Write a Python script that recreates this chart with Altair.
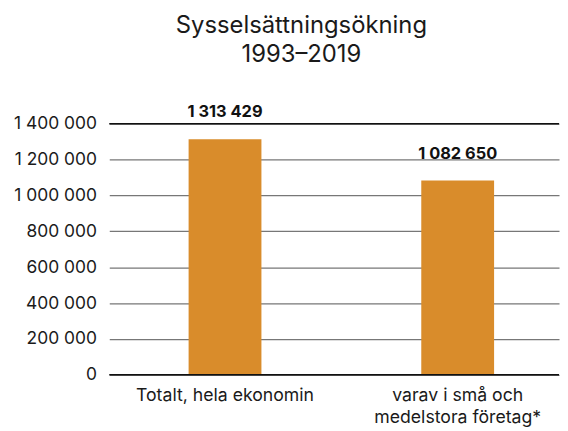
import altair as alt
import pandas as pd

categories = ["Totalt, hela ekonomin", "varav i små och\nmedelstora företag*"]
values = [1313429, 1082650]
labels = ["1\u00a0313\u00a0429", "1\u00a0082\u00a0650"]
y_ticks = [0, 200000, 400000, 600000, 800000, 1000000, 1200000, 1400000]

df = pd.DataFrame({"kategori": categories, "varde": values, "etikett": labels})
FONT = "Inter"

y_scale = alt.Scale(domain=[0, 1400000], nice=False)
y_axis = alt.Axis(values=y_ticks, format=",d", ticks=False, domain=False,
                  labelPadding=13, labelFontSize=17.5, labelColor="#1a1a1a",
                  labelFont=FONT, gridColor="#777777", gridWidth=1.2,
                  labelOverlap=False)

x = alt.X("kategori:N", sort=categories, title=None,
          scale=alt.Scale(paddingInner=0.687, paddingOuter=0.31, align=0.55),
          axis=alt.Axis(labelAngle=0, labelExpr="split(datum.label, '\\n')",
                        ticks=False, domain=False, labelPadding=12,
                        labelFontSize=17.8, labelColor="#1a1a1a", labelFont=FONT,
                        labelLineHeight=22, labelOverlap=False, labelLimit=0))

bars = alt.Chart(df).mark_bar(color="#D98C2B").encode(
    x=x, y=alt.Y("varde:Q", title=None, scale=y_scale, axis=y_axis))
text = alt.Chart(df).mark_text(baseline="bottom", dy=-19, fontSize=16.5,
                               fontWeight="bold", font=FONT, color="#111111").encode(
    x=alt.X("kategori:N", sort=categories),
    y=alt.Y("varde:Q", title=None, scale=y_scale, axis=y_axis),
    text="etikett:N")
edges = alt.Chart(pd.DataFrame({"v": [0, 1400000]})).mark_rule(
    color="#111111", strokeWidth=1.5).encode(
    y=alt.Y("v:Q", title=None, scale=y_scale, axis=y_axis))

chart = alt.layer(bars, edges, text).properties(
    width=453, height=253,
    padding={"left": 5, "top": 4, "right": 0, "bottom": 0},
    title=alt.TitleParams(["Sysselsättningsökning", "1993–2019"], fontSize=24,
                          fontWeight="normal", font=FONT, color="#1a1a1a",
                          lineHeight=29, offset=38, dx=-33),
).configure_view(stroke=None)

chart.save("out.html", embed_options={"renderer": "svg", "actions": False,
                                      "formatLocale": {"decimal": ",", "thousands": "\u00a0",
                                                       "grouping": [3], "currency": ["", " kr"]}})
